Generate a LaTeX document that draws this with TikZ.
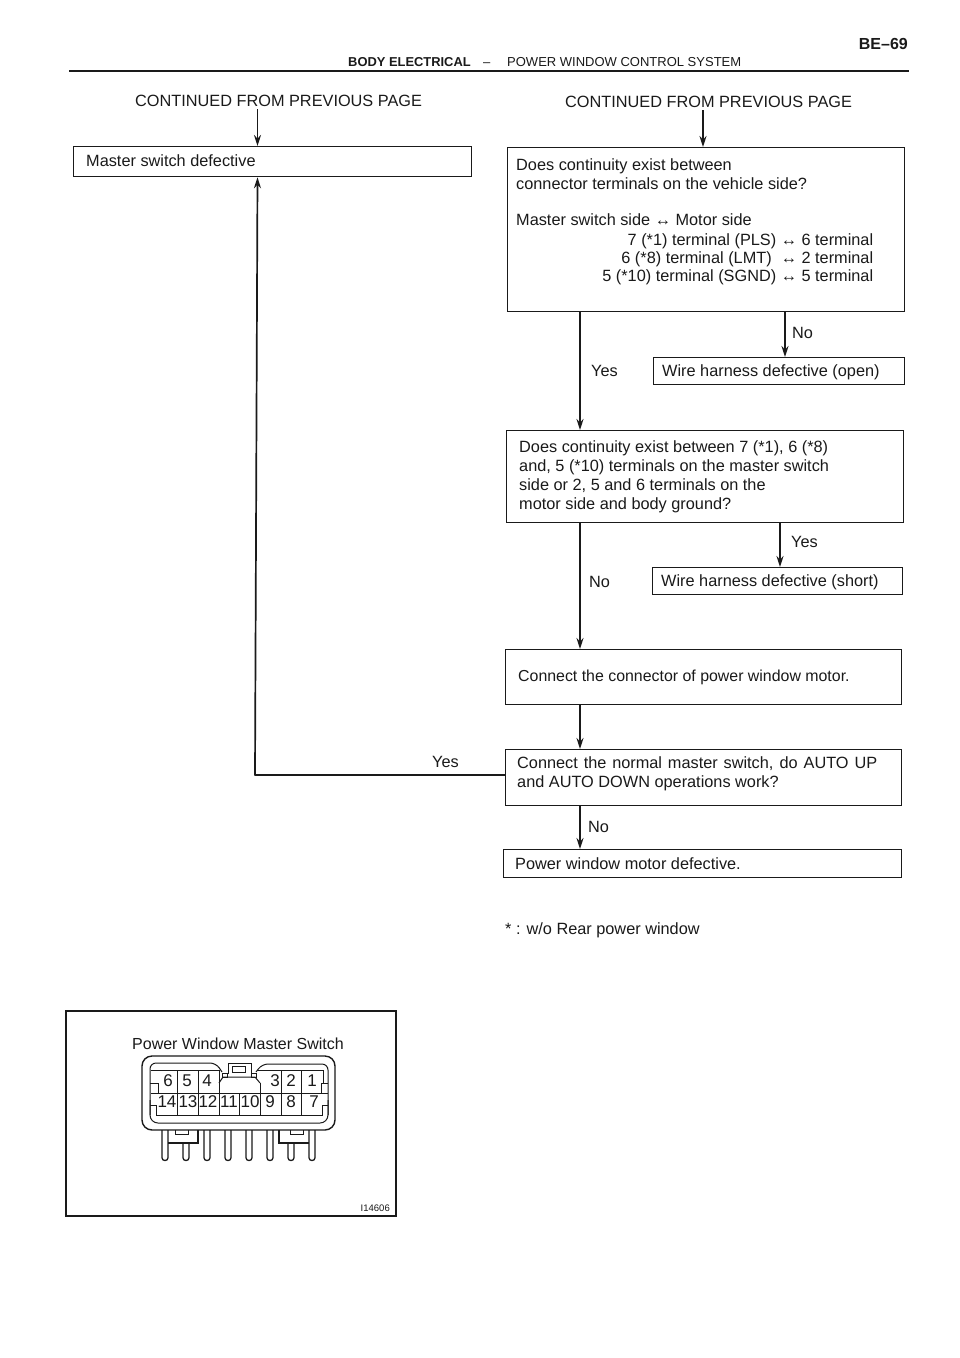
\documentclass[tikz,border=0pt]{standalone}
\usepackage{fontspec}
\setmainfont{Liberation Sans}
\usetikzlibrary{arrows.meta}
\newcommand{\lr}{↔}
\newcommand{\rline}[1]{\makebox[357pt][r]{#1}}
\definecolor{ink}{HTML}{1A1A1A}
\tikzset{
  x=1pt,y=-1pt,
  every node/.style={font=\fontsize{16.3}{19}\selectfont,text=ink},
  fbox/.style={draw=ink,line width=1.3pt,anchor=north west,inner sep=0pt,align=left},
  lbl/.style={inner sep=0pt,anchor=base west},
  flow/.style={draw=ink,line width=1.7pt,-{Stealth[length=11pt,width=7pt]}},
  part/.style={draw=ink,line width=1pt},
  num/.style={inner sep=0pt,font=\fontsize{17}{17}\selectfont}
}
\newcommand{\fb}[8][0]{% yshift; name, x1,y1,x2,y2, xinset, text
  \node[fbox,minimum width=#5pt-#3pt,minimum height=#6pt-#4pt] (#2) at (#3,#4) {};
  \node[inner sep=0pt,anchor=west,align=left] (#2t) at ([xshift=#7pt,yshift=#1pt]#2.west) {#8};
}
\begin{document}
\begin{tikzpicture}
\useasboundingbox[fill=white] (0,0) rectangle (960,1358);
% header
\node[inner sep=0pt,anchor=base east,font=\bfseries\fontsize{16}{17}\selectfont] (pg) at (908,49) {BE--69};
\node[lbl,font=\bfseries\fontsize{12.9}{14}\selectfont] (h1) at (348,66) {BODY ELECTRICAL};
\node[lbl,font=\fontsize{13}{14}\selectfont] (h2) at (483,66) {--};
\node[lbl,font=\fontsize{13}{14}\selectfont] (h3) at (507,66) {POWER WINDOW CONTROL SYSTEM};
\coordinate (ra) at (69,71); \coordinate (rb) at (909,71);
\draw[ink,line width=2.6pt] (ra) -- (rb);
% continued labels
\node[lbl] (c1) at (135,106) {CONTINUED FROM PREVIOUS PAGE};
\node[lbl] (c2) at (565,107) {CONTINUED FROM PREVIOUS PAGE};
% boxes
\fb[1]{master}{73}{146}{471}{176}{13}{Master switch defective}
\node[fbox,minimum width=397pt,minimum height=164pt] (q1) at (507,147) {};
\node[inner sep=0pt,anchor=north west,align=left] (q1t) at (516,158) {Does continuity exist between\\connector terminals on the vehicle side?\\[17pt]Master switch side \lr\ Motor side\\[1pt]
\rline{7 (*1) terminal (PLS) \lr\ 6 terminal}\\[-1pt]
\rline{6 (*8) terminal (LMT)\ \ \lr\ 2 terminal}\\[-1pt]
\rline{5 (*10) terminal (SGND) \lr\ 5 terminal}};
\fb[-1.5]{open}{653}{357}{904}{384}{9}{Wire harness defective (open)}
\fb{q2}{506}{430}{903}{522}{13}{Does continuity exist between 7 (*1), 6 (*8)\\and, 5 (*10) terminals on the master switch\\side or 2, 5 and 6 terminals on the\\motor side and body ground?}
\fb[-1.5]{short}{652}{567}{902}{594}{9}{Wire harness defective (short)}
\fb[-0.5]{motor}{505}{649}{901}{704}{13}{\fontsize{15.9}{19}\selectfont Connect the connector of power window motor.}
\fb[3.5]{normal}{505}{749}{901}{805}{12}{\makebox[360pt][s]{Connect the normal master switch, do AUTO UP}\\and AUTO DOWN operations work?}
\fb{defect}{503}{849}{901}{877}{12}{Power window motor defective.}
% branch labels
\node[lbl] (l1) at (792,338) {No};
\node[lbl] (l2) at (591,376) {Yes};
\node[lbl] (l3) at (791,547) {Yes};
\node[lbl] (l4) at (589,587) {No};
\node[lbl] (l5) at (432,767) {Yes};
\node[lbl] (l6) at (588,832) {No};
\node[lbl] (foot) at (505,934) {* : w/o Rear power window};
% connectors
\coordinate (xl) at (257.5,0); \coordinate (xs) at (255,0); \coordinate (xr) at (703,0); \coordinate (xa) at (580,0);
\coordinate (xb) at (785,0); \coordinate (xc) at (780,0);
\coordinate (ybend) at (0,775);
\draw[flow] (c1.base -| xl) ++(0,3) -- (master.north -| xl);
\draw[flow] (c2.base -| xr) ++(0,3) -- (q1.north -| xr);
\draw[flow] (q1.south -| xa) -- (q2.north -| xa);
\draw[flow] (q1.south -| xb) -- (open.north -| xb);
\draw[flow] (q2.south -| xa) -- (motor.north -| xa);
\draw[flow] (q2.south -| xc) -- (short.north -| xc);
\draw[flow] (motor.south -| xa) -- (normal.north -| xa);
\draw[flow] (normal.south -| xa) -- (defect.north -| xa);
\draw[ink,line width=1.2pt] (normal.west |- ybend) -- (ybend -| xs);
\draw[flow] ([yshift=-0.6pt]ybend -| xs) -- (master.south -| xl);
% connector figure
\node[fbox,line width=1.8pt,minimum width=330pt,minimum height=205pt] (frame) at (65,1010) {};
\node[lbl,font=\fontsize{16}{16}\selectfont] (title) at (132,1049) {Power Window Master Switch};
\node[inner sep=0pt,anchor=base east,font=\fontsize{9.5}{10}\selectfont] (code) at (390,1211) {I14606};
% housing
\draw[ink,line width=1.4pt,rounded corners=10pt] (142,1056) rectangle (335,1130);
% inner outline
\draw[part,rounded corners=6pt] (150,1115) -- (150,1063) -- (216,1063) -- (222,1072);
\draw[part,rounded corners=6pt] (328,1115) -- (328,1064) -- (262,1064) -- (256,1072);
\draw[part,rounded corners=8pt] (150,1100) -- (150,1123) -- (328,1123) -- (328,1100);
% top latch
\draw[part] (228,1074) -- (228,1063) -- (251,1063) -- (251,1074);
\draw[part] (232,1066) rectangle (245,1072);
\draw[part] (222,1073) rectangle (227,1077);
\draw[part] (251,1073) rectangle (256,1077);
\draw[part] (219,1083) -- (223,1077) -- (255,1077) -- (260,1083);
% cell grid
\draw[part] (151,1070) -- (220,1070);
\draw[part] (257,1070) -- (323,1070);
\draw[part] (151,1093) -- (328,1093);
\draw[part] (156,1115) -- (323,1115);
\draw[part] (219,1070) -- (219,1093);
\draw[part] (260,1083) -- (260,1093);
\foreach \vx in {177,198,281,301}{\draw[part] (\vx,1070) -- (\vx,1115);}
\foreach \vx in {219,239,260}{\draw[part] (\vx,1093) -- (\vx,1115);}
\draw[part] (323,1070) -- (323,1083);
% side keys
\draw[part] (150,1083) -- (158,1083) -- (158,1093);
\draw[part] (328,1083) -- (321,1083) -- (321,1093);
\draw[part] (150,1105) -- (156,1105) -- (156,1115);
\draw[part] (328,1105) -- (322,1105) -- (322,1115);
% digits
\foreach \nm/\dx/\dy/\dt in {a/168/1081/6,b/187/1081/5,c/207/1081/4,d/275/1081/3,e/291/1081/2,f/312/1081/1,
  g/167/1102/14,h/188/1102/13,i/208/1102/12,j/229/1102/11,k/250/1102/10,l/270/1102/9,m/291/1102/8,n/314/1102/7}{
  \node[num] (d\nm) at (\dx,\dy) {\dt};}
% pins
\foreach \px/\py in {165/1130,186/1143,207/1130,228/1130,249/1130,270/1130,291/1143,312/1130}{
  \draw[ink,line width=1.3pt,rounded corners=2.8pt] (\px-3,\py) -- (\px-3,1160.5) -- (\px+3,1160.5) -- (\px+3,\py);}
% brackets
\draw[ink,line width=1.3pt] (168,1143) -- (198,1143) -- (198,1130);
\draw[ink,line width=1.3pt] (309,1143) -- (279,1143) -- (279,1130);
\draw[part] (175,1130) -- (175,1134) -- (188,1134) -- (188,1130);
\draw[part] (290,1130) -- (290,1134) -- (303,1134) -- (303,1130);
\end{tikzpicture}
\end{document}
